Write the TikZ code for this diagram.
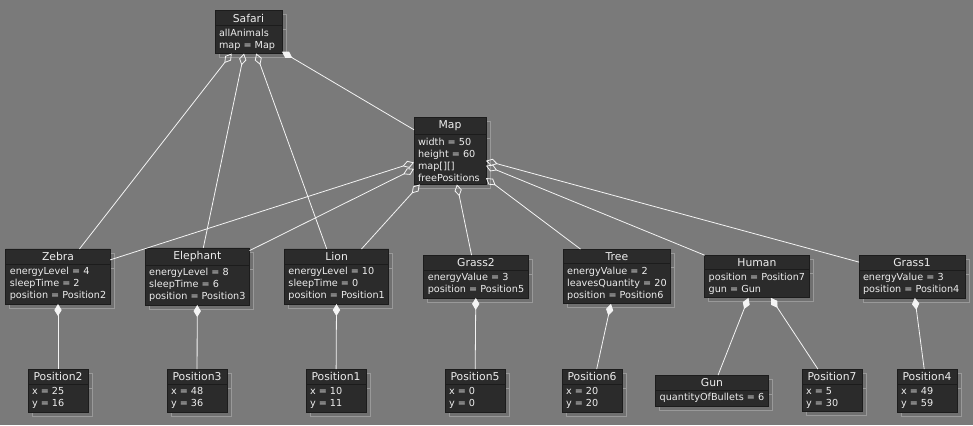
\documentclass[tikz,border=0pt]{standalone}
\usepackage{fontspec}
\setmainfont{DejaVu Sans}
\usetikzlibrary{positioning, shapes.multipart, shadows, arrows.meta}

\definecolor{canvas}{HTML}{7A7A7A}
\definecolor{boxfill}{HTML}{2B2B2B}
\definecolor{boxline}{HTML}{1C1C1C}
\definecolor{boxtext}{HTML}{EDEDED}
\definecolor{shadefill}{HTML}{707070}
\definecolor{shadeline}{HTML}{999999}
\definecolor{linkcol}{HTML}{F4F4F4}

\newcommand{\cname}[1]{{\fontsize{8.1}{9}\selectfont #1}}

\begin{document}
\begin{tikzpicture}[
        x=0.75pt, y=-0.75pt,
        obj/.style={rectangle split, rectangle split parts=2,
            rectangle split part align={center,left},
            draw=boxline, fill=boxfill, text=boxtext, line width=0.6pt,
            font=\fontsize{7.25}{9}\selectfont, align=left, outer sep=0pt,
            inner xsep=3pt, inner ysep=2.2pt, minimum width=78pt,
            drop shadow={shadow xshift=3pt, shadow yshift=-3pt,
                fill=shadefill, draw=shadeline, opacity=1}},
        agg/.style={{Diamond[open, length=9pt, width=5.5pt]}-, draw=linkcol, line width=0.6pt},
        comp/.style={{Diamond[length=9pt, width=5.5pt]}-, draw=linkcol, line width=0.6pt}
        ]
        \useasboundingbox[fill=canvas] (0,0) rectangle (973,425);

        % Nodes
        \node[obj, minimum width=50.25pt] (safari) at (248.5,32) {\cname{Safari}\nodepart{two}allAnimals\\map = Map};
        \node[obj, minimum width=54pt] (map) at (450,151) {\cname{Map}\nodepart{two}width = 50\\height = 60\\map[][]\\freePositions};

        \node[obj] (zebra) at (58,276.5) {\cname{Zebra}\nodepart{two}energyLevel = 4\\sleepTime = 2\\position = Position2};
        \node[obj] (elephant) [right=26.25pt of zebra] {\cname{Elephant}\nodepart{two}energyLevel = 8\\sleepTime = 6\\position = Position3};
        \node[obj] (lion) [right=26.25pt of elephant] {\cname{Lion}\nodepart{two}energyLevel = 10\\sleepTime = 0\\position = Position1};
        \node[obj] (grass2) [right=26.25pt of lion] {\cname{Grass2}\nodepart{two}energyValue = 3\\position = Position5};
        \node[obj, minimum width=79.5pt] (tree) [right=26.25pt of grass2] {\cname{Tree}\nodepart{two}energyValue = 2\\leavesQuantity = 20\\position = Position6};
        \node[obj] (human) [right=25.5pt of tree] {\cname{Human}\nodepart{two}position = Position7\\gun = Gun};
        \node[obj, minimum width=79.5pt] (grass1) [right=37.5pt of human] {\cname{Grass1}\nodepart{two}energyValue = 3\\position = Position4};

        \node[obj, minimum width=45pt] (pos2) at (58,390.5) {\cname{Position2}\nodepart{two}x = 25\\y = 16};
        \node[obj, minimum width=45pt] (pos3) at (197,390.5) {\cname{Position3}\nodepart{two}x = 48\\y = 36};
        \node[obj, minimum width=45pt] (pos1) at (336,390.5) {\cname{Position1}\nodepart{two}x = 10\\y = 11};
        \node[obj, minimum width=45pt] (pos5) at (475,390.5) {\cname{Position5}\nodepart{two}x = 0\\y = 0};
        \node[obj, minimum width=45pt] (pos6) at (592,390.5) {\cname{Position6}\nodepart{two}x = 20\\y = 20};
        \node[obj, minimum width=82.5pt] (gun) at (712,390.5) {\cname{Gun}\nodepart{two}quantityOfBullets = 6};
        \node[obj, minimum width=45pt] (pos7) at (832,390.5) {\cname{Position7}\nodepart{two}x = 5\\y = 30};
        \node[obj, minimum width=45pt] (pos4) at (927,390.5) {\cname{Position4}\nodepart{two}x = 49\\y = 59};

        % Arrows
        \draw[agg] (safari) -- (zebra);
        \draw[agg] (safari) -- (elephant);
        \draw[agg] (safari) -- (lion);
        \draw[comp] (safari) -- (map);

        \draw[agg] (map) -- (zebra);
        \draw[agg] (map) -- (elephant);
        \draw[agg] (map) -- (lion);
        \draw[agg] (map) -- (grass2);
        \draw[agg] (map) -- (tree);
        \draw[agg] (map) -- (human);
        \draw[agg] (map) -- (grass1);

        \draw[comp] (zebra) -- (pos2);
        \draw[comp] (elephant) -- (pos3);
        \draw[comp] (lion) -- (pos1);
        \draw[comp] (grass2) -- (pos5);
        \draw[comp] (tree) -- (pos6);
        \draw[comp] (human) -- (gun);
        \draw[comp] (human) -- (pos7);
        \draw[comp] (grass1) -- (pos4);
    \end{tikzpicture}
\end{document}
